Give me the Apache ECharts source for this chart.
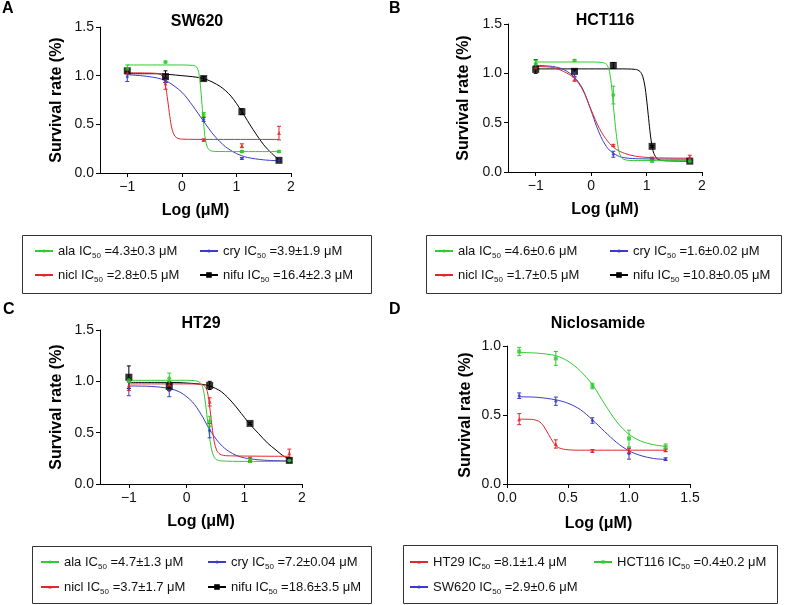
<!DOCTYPE html>
<html>
<head>
<meta charset="utf-8">
<script src="https://cdn.jsdelivr.net/npm/echarts@6/dist/echarts.min.js"></script>
<style>
  html, body { margin: 0; padding: 0; background: #fff; }
  #chart { width: 788px; height: 605px; }
</style>
</head>
<body>
<div id="chart"></div>
<script>
// doses (log uM)
const logDose = [-1, -0.3, 0.4, 1.1, 1.78]
const logDoseD = [0.1, 0.4, 0.7, 1.0, 1.3]
const logTicks = [-1, 0, 1, 2]

// A - SW620
const aAla = [1.07, 1.14, 0.60, 0.22, 0.22]
const aAlaErr = [0.04, 0.01, 0.02, 0.01, 0.01]
const aAlaFit = [[-1, 1.11], [0, 1.11], [0.2, 1.105], [0.27, 1.09], [0.31, 1.03], [0.34, 0.9], [0.37, 0.7], [0.4, 0.5], [0.43, 0.35], [0.47, 0.26], [0.52, 0.23], [0.6, 0.222], [1, 0.22], [1.78, 0.22]]
const aNicl = [1.03, 0.92, 0.34, 0.28, 0.41]
const aNiclErr = [0.01, 0.06, 0.01, 0.02, 0.07]
const aNiclFit = [[-1, 1.03], [-0.5, 1.025], [-0.4, 1.015], [-0.34, 0.98], [-0.3, 0.9], [-0.26, 0.75], [-0.22, 0.58], [-0.18, 0.45], [-0.13, 0.38], [-0.07, 0.355], [0, 0.348], [0.5, 0.345], [1.78, 0.345]]
const aCry = [0.99, 0.95, 0.55, 0.15, 0.13]
const aCryErr = [0.05, 0.02, 0.02, 0.01, 0.01]
const aCryFit = [[-1, 1.01], [-0.6, 0.99], [-0.3, 0.95], [0, 0.83], [0.2, 0.69], [0.4, 0.53], [0.6, 0.38], [0.8, 0.27], [1.0, 0.2], [1.2, 0.16], [1.5, 0.135], [1.78, 0.125]]
const aNifu = [1.05, 0.99, 0.97, 0.63, 0.13]
const aNifuErr = [0.02, 0.06, 0.02, 0.03, 0.01]
const aNifuFit = [[-1, 1.02], [-0.5, 1.02], [0, 1.0], [0.4, 0.97], [0.7, 0.89], [0.9, 0.79], [1.1, 0.63], [1.3, 0.45], [1.5, 0.29], [1.65, 0.2], [1.78, 0.135]]

// B - HCT116
const bAla = [1.10, 1.13, 0.78, 0.11, 0.11]
const bAlaErr = [0.03, 0.01, 0.09, 0.01, 0.01]
const bAlaFit = [[-1, 1.115], [0, 1.115], [0.2, 1.11], [0.28, 1.09], [0.33, 1.02], [0.37, 0.86], [0.41, 0.62], [0.45, 0.4], [0.49, 0.24], [0.53, 0.16], [0.58, 0.13], [0.7, 0.117], [1.78, 0.115]]
const bNicl = [1.06, 0.94, 0.27, 0.14, 0.15]
const bNiclErr = [0.02, 0.02, 0.01, 0.01, 0.02]
const bNiclFit = [[-1, 1.07], [-0.7, 1.06], [-0.5, 1.02], [-0.3, 0.95], [-0.15, 0.83], [0, 0.63], [0.15, 0.44], [0.3, 0.31], [0.45, 0.23], [0.6, 0.19], [0.8, 0.16], [1.1, 0.145], [1.78, 0.14]]
const bCry = [1.09, 1.0, 0.18, 0.13, 0.13]
const bCryErr = [0.05, 0.03, 0.03, 0.01, 0.01]
const bCryFit = [[-1, 1.08], [-0.7, 1.07], [-0.5, 1.04], [-0.3, 0.96], [-0.15, 0.84], [0, 0.62], [0.1, 0.46], [0.2, 0.33], [0.3, 0.24], [0.4, 0.19], [0.55, 0.15], [0.8, 0.135], [1.78, 0.13]]
const bNifu = [1.04, 1.02, 1.08, 0.26, 0.11]
const bNifuErr = [0.04, 0.02, 0.03, 0.01, 0.01]
const bNifuFit = [[-1, 1.045], [0.5, 1.045], [0.8, 1.04], [0.88, 1.02], [0.93, 0.97], [0.97, 0.87], [1.0, 0.74], [1.03, 0.58], [1.06, 0.42], [1.09, 0.29], [1.13, 0.19], [1.2, 0.13], [1.3, 0.115], [1.78, 0.11]]

// C - HT29
const cAla = [1.01, 1.03, 0.61, 0.23, 0.23]
const cAlaErr = [0.02, 0.05, 0.05, 0.02, 0.01]
const cAlaFit = [[-1, 1.01], [0, 1.01], [0.15, 1.005], [0.23, 0.99], [0.28, 0.94], [0.32, 0.82], [0.35, 0.68], [0.38, 0.54], [0.41, 0.41], [0.45, 0.3], [0.5, 0.245], [0.6, 0.225], [1.0, 0.22], [1.78, 0.22]]
const cNicl = [0.96, 0.97, 0.80, 0.24, 0.30]
const cNiclErr = [0.05, 0.03, 0.04, 0.02, 0.04]
const cNiclFit = [[-1, 0.975], [0, 0.975], [0.25, 0.97], [0.32, 0.95], [0.36, 0.9], [0.39, 0.8], [0.42, 0.66], [0.45, 0.52], [0.48, 0.41], [0.52, 0.33], [0.58, 0.29], [0.7, 0.275], [1.78, 0.27]]
const cCry = [0.93, 0.91, 0.52, 0.23, 0.23]
const cCryErr = [0.07, 0.06, 0.07, 0.02, 0.01]
const cCryFit = [[-1, 0.955], [-0.6, 0.95], [-0.3, 0.93], [-0.1, 0.89], [0.1, 0.8], [0.25, 0.68], [0.4, 0.53], [0.55, 0.41], [0.7, 0.33], [0.9, 0.27], [1.1, 0.245], [1.4, 0.23], [1.78, 0.225]]
const cNifu = [1.04, 0.95, 0.96, 0.59, 0.23]
const cNifuErr = [0.11, 0.04, 0.04, 0.01, 0.02]
const cNifuFit = [[-1, 0.99], [-0.3, 0.99], [0.2, 0.975], [0.4, 0.955], [0.6, 0.9], [0.8, 0.79], [1.0, 0.65], [1.1, 0.58], [1.25, 0.49], [1.4, 0.4], [1.55, 0.33], [1.66, 0.28], [1.78, 0.24]]

// D - Niclosamide
const dHt29 = [0.47, 0.29, 0.24, 0.24, 0.245]
const dHt29Err = [0.04, 0.03, 0.01, 0.02, 0.01]
const dHt29Fit = [[0.1, 0.47], [0.2, 0.468], [0.26, 0.455], [0.3, 0.42], [0.34, 0.36], [0.38, 0.3], [0.42, 0.265], [0.48, 0.25], [0.6, 0.245], [1.3, 0.245]]
const dHct116 = [0.96, 0.91, 0.71, 0.33, 0.27]
const dHct116Err = [0.03, 0.05, 0.02, 0.06, 0.02]
const dHct116Fit = [[0.1, 0.953], [0.25, 0.948], [0.4, 0.93], [0.5, 0.89], [0.6, 0.82], [0.7, 0.72], [0.8, 0.58], [0.9, 0.45], [1.0, 0.36], [1.1, 0.31], [1.2, 0.285], [1.3, 0.272]]
const dSw620 = [0.64, 0.60, 0.46, 0.22, 0.18]
const dSw620Err = [0.02, 0.03, 0.02, 0.04, 0.01]
const dSw620Fit = [[0.1, 0.632], [0.25, 0.628], [0.4, 0.61], [0.5, 0.585], [0.6, 0.54], [0.7, 0.465], [0.8, 0.38], [0.9, 0.3], [1.0, 0.24], [1.1, 0.205], [1.2, 0.185], [1.3, 0.178]]

const GREEN = '#2ecc2e'
const RED = '#e3262b'
const BLUE = '#3b3bc8'
const BLACK = '#000000'
const FONT = 'Liberation Sans'

const series = []
const legends = []

function errorBar(params, api) {
  const x = api.value(0)
  const top = api.coord([x, api.value(2)])
  const bot = api.coord([x, api.value(1)])
  const color = api.visual('color')
  const w = 2
  const st = { stroke: color, lineWidth: 1 }
  return {
    type: 'group',
    children: [
      { type: 'line', shape: { x1: top[0], y1: top[1], x2: bot[0], y2: bot[1] }, style: st },
      { type: 'line', shape: { x1: top[0] - w, y1: top[1], x2: top[0] + w, y2: top[1] }, style: st },
      { type: 'line', shape: { x1: bot[0] - w, y1: bot[1], x2: bot[0] + w, y2: bot[1] }, style: st }
    ]
  }
}

function addDrug(gi, name, color, symbol, size, xs, ys, err, fit) {
  series.push({
    type: 'line', name, xAxisIndex: gi, yAxisIndex: gi,
    data: fit, smooth: 0.3, showSymbol: false, symbol, symbolSize: size,
    lineStyle: { color, width: 1 }, itemStyle: { color }, z: 2
  })
  series.push({
    type: 'custom', name: name + ' sd', xAxisIndex: gi, yAxisIndex: gi,
    data: xs.map((x, i) => [x, ys[i] - err[i], ys[i] + err[i]]),
    renderItem: errorBar, itemStyle: { color }, z: 3
  })
  series.push({
    type: 'scatter', name: name + ' pts', xAxisIndex: gi, yAxisIndex: gi,
    data: xs.map((x, i) => [x, ys[i]]), symbol, symbolSize: size,
    itemStyle: { color }, z: 4
  })
}

function addLegend(name, left, cy, iconH) {
  legends.push({
    data: [name], left, top: cy - 9, padding: 0,
    itemWidth: 18, itemHeight: iconH, selectedMode: false,
    formatter: n => n.replace('IC50', 'IC{sub|50}'),
    textStyle: {
      fontSize: 13, color: '#111', fontFamily: FONT, lineHeight: 18,
      rich: { sub: { fontSize: 8, lineHeight: 8, verticalAlign: 'bottom', fontFamily: FONT, color: '#111' } }
    }
  })
}

// panel A
addDrug(0, 'nifu IC50 =16.4±2.3 μM', BLACK, 'rect', 7, logDose, aNifu, aNifuErr, aNifuFit)
addDrug(0, 'cry IC50 =3.9±1.9 μM', BLUE, 'circle', 3, logDose, aCry, aCryErr, aCryFit)
addDrug(0, 'nicl IC50 =2.8±0.5 μM', RED, 'triangle', 4, logDose, aNicl, aNiclErr, aNiclFit)
addDrug(0, 'ala IC50 =4.3±0.3 μM', GREEN, 'circle', 4, logDose, aAla, aAlaErr, aAlaFit)
addLegend('ala IC50 =4.3±0.3 μM', 34, 251, 4)
addLegend('cry IC50 =3.9±1.9 μM', 199, 251, 4)
addLegend('nicl IC50 =2.8±0.5 μM', 34, 275, 4)
addLegend('nifu IC50 =16.4±2.3 μM', 199, 275, 7)

// panel B
addDrug(1, 'nifu IC50 =10.8±0.05 μM', BLACK, 'rect', 7, logDose, bNifu, bNifuErr, bNifuFit)
addDrug(1, 'cry IC50 =1.6±0.02 μM', BLUE, 'circle', 3, logDose, bCry, bCryErr, bCryFit)
addDrug(1, 'nicl IC50 =1.7±0.5 μM', RED, 'triangle', 4, logDose, bNicl, bNiclErr, bNiclFit)
addDrug(1, 'ala IC50 =4.6±0.6 μM', GREEN, 'circle', 4, logDose, bAla, bAlaErr, bAlaFit)
addLegend('ala IC50 =4.6±0.6 μM', 434, 251, 4)
addLegend('cry IC50 =1.6±0.02 μM', 609, 251, 4)
addLegend('nicl IC50 =1.7±0.5 μM', 434, 275, 4)
addLegend('nifu IC50 =10.8±0.05 μM', 609, 275, 7)

// panel C
addDrug(2, 'nifu IC50 =18.6±3.5 μM', BLACK, 'rect', 7, logDose, cNifu, cNifuErr, cNifuFit)
addDrug(2, 'cry IC50 =7.2±0.04 μM', BLUE, 'circle', 3, logDose, cCry, cCryErr, cCryFit)
addDrug(2, 'nicl IC50 =3.7±1.7 μM', RED, 'triangle', 4, logDose, cNicl, cNiclErr, cNiclFit)
addDrug(2, 'ala IC50 =4.7±1.3 μM', GREEN, 'circle', 4, logDose, cAla, cAlaErr, cAlaFit)
addLegend('ala IC50 =4.7±1.3 μM', 40, 562, 4)
addLegend('cry IC50 =7.2±0.04 μM', 207, 562, 4)
addLegend('nicl IC50 =3.7±1.7 μM', 40, 587, 4)
addLegend('nifu IC50 =18.6±3.5 μM', 207, 587, 7)

// panel D
addDrug(3, 'SW620 IC50 =2.9±0.6 μM', BLUE, 'circle', 3, logDoseD, dSw620, dSw620Err, dSw620Fit)
addDrug(3, 'HT29 IC50 =8.1±1.4 μM', RED, 'triangle', 4, logDoseD, dHt29, dHt29Err, dHt29Fit)
addDrug(3, 'HCT116 IC50 =0.4±0.2 μM', GREEN, 'rect', 4, logDoseD, dHct116, dHct116Err, dHct116Fit)
addLegend('HT29 IC50 =8.1±1.4 μM', 409, 562, 4)
addLegend('HCT116 IC50 =0.4±0.2 μM', 593, 562, 4)
addLegend('SW620 IC50 =2.9±0.6 μM', 409, 587, 4)

const grids = [
  { left: 100, top: 27, width: 191, height: 146 },
  { left: 508, top: 24, width: 194, height: 148 },
  { left: 100, top: 330, width: 202, height: 154 },
  { left: 507, top: 346, width: 183, height: 138 }
]

const axisCommon = {
  axisLine: { show: true, onZero: false, lineStyle: { color: '#000', width: 1 } },
  splitLine: { show: false },
  nameLocation: 'middle',
  nameTextStyle: { fontWeight: 'bold', fontSize: 16, color: '#000', fontFamily: FONT }
}

function logXAxis(gi) {
  return {
    ...axisCommon, gridIndex: gi, type: 'value', min: -1.5, max: 2,
    name: 'Log (μM)', nameGap: 30,
    axisTick: { show: true, length: 4, customValues: logTicks, lineStyle: { color: '#000' } },
    axisLabel: {
      customValues: logTicks, fontSize: 14, color: '#111', fontFamily: FONT, margin: 7,
      formatter: v => (v < 0 ? '\u2212' + Math.abs(v) : String(v))
    }
  }
}

function survYAxis(gi, max, gap) {
  return {
    ...axisCommon, gridIndex: gi, type: 'value', min: 0, max, interval: 0.5,
    name: 'Survival rate (%)', nameGap: gap,
    axisTick: { show: true, length: 4, lineStyle: { color: '#000' } },
    axisLabel: { fontSize: 14, color: '#111', fontFamily: FONT, margin: 6, formatter: v => v.toFixed(1) }
  }
}

const xAxes = [logXAxis(0), logXAxis(1), logXAxis(2), {
  ...axisCommon, gridIndex: 3, type: 'value', min: 0, max: 1.5, interval: 0.5,
  name: 'Log (μM)', nameGap: 32,
  axisTick: { show: true, length: 4, lineStyle: { color: '#000' } },
  axisLabel: { fontSize: 14, color: '#111', fontFamily: FONT, margin: 7, formatter: v => v.toFixed(1) }
}]

const yAxes = [survYAxis(0, 1.5, 35), survYAxis(1, 1.5, 36), survYAxis(2, 1.5, 35), survYAxis(3, 1.0, 33)]

function txt(text, x, y, size, align) {
  return {
    type: 'text', x, y, silent: true,
    style: { text, font: 'bold ' + size + 'px ' + FONT, fill: '#000', textAlign: align, textVerticalAlign: 'middle' }
  }
}

function box(x, y, w, h) {
  return { type: 'rect', shape: { x: x + 0.5, y: y + 0.5, width: w, height: h }, style: { fill: 'none', stroke: '#333', lineWidth: 1 }, silent: true }
}

const graphics = [
  txt('A', 2, 9, 16, 'left'), txt('B', 389, 9, 16, 'left'),
  txt('C', 3, 310, 16, 'left'), txt('D', 389, 310, 16, 'left'),
  txt('SW620', 197, 22, 16, 'center'), txt('HCT116', 605, 21, 16, 'center'),
  txt('HT29', 201, 324, 16, 'center'), txt('Niclosamide', 598, 324, 16, 'center'),
  box(22, 235, 349, 58), box(426, 235, 355, 58),
  box(32, 546, 339, 57), box(403, 545, 374, 58)
]

const chart = echarts.init(document.getElementById('chart'))
chart.setOption({
  animation: false,
  backgroundColor: '#fff',
  textStyle: { fontFamily: FONT },
  grid: grids,
  xAxis: xAxes,
  yAxis: yAxes,
  legend: legends,
  graphic: graphics,
  series
})
</script>
</body>
</html>
